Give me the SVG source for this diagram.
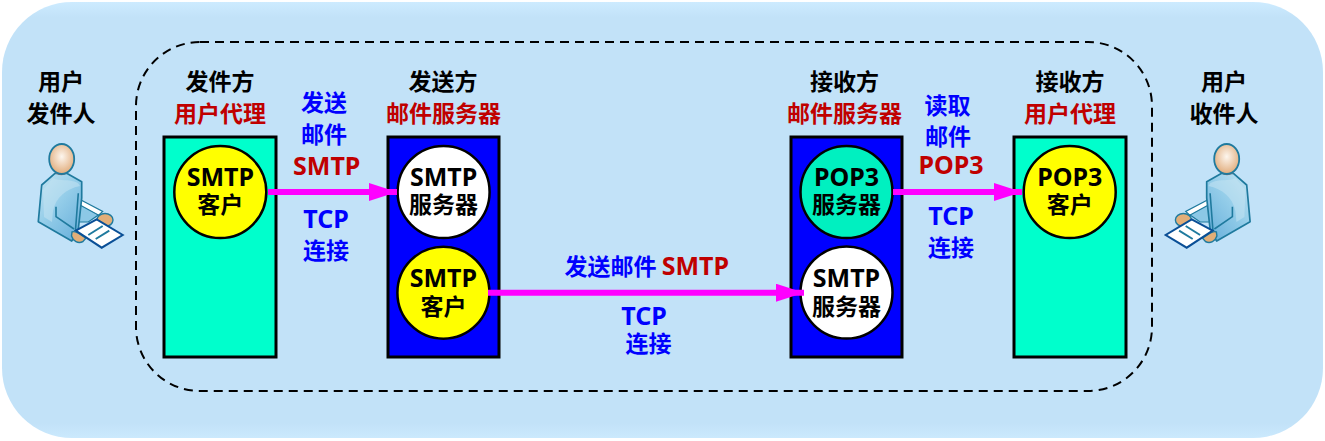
<svg xmlns="http://www.w3.org/2000/svg" xmlns:xlink="http://www.w3.org/1999/xlink" width="1325" height="441" viewBox="0 0 1325 441">
<style>
text{font-family:"Noto Sans CJK SC","Noto Sans",sans-serif;font-weight:700;font-size:23px;text-anchor:middle}
.k{fill:#000}.r{fill:#c00000}.b{fill:#0000ff}
.box{stroke:#000;stroke-width:3}
.c{stroke:#000;stroke-width:2.5}
.en{font-family:"Noto Sans","Noto Sans CJK SC",sans-serif;font-size:25px}
.arrow{stroke:#ff00ff;stroke-width:6;fill:none;marker-end:url(#ah)}
.o{stroke:#1f7a9e;stroke-width:1.600;stroke-linejoin:round;fill:none}
</style>
<defs>
<marker id="ah" markerUnits="userSpaceOnUse" markerWidth="30" markerHeight="18" refX="29" refY="9" orient="auto"><path d="M1 0L29 9L1 18Z" fill="#ff00ff"/></marker>
<linearGradient id="bg" x1="0" y1="0" x2="0" y2="1"><stop offset="0" stop-color="#cdebff"/><stop offset=".035" stop-color="#c2e2f8"/><stop offset=".965" stop-color="#c2e2f8"/><stop offset="1" stop-color="#cbe9fd"/></linearGradient>
<radialGradient id="face" cx=".5" cy=".42" r=".6"><stop offset="0" stop-color="#fdf6ee"/><stop offset="1" stop-color="#e0aa78"/></radialGradient>
<linearGradient id="cloth" x1="0" y1="0" x2=".8" y2="1"><stop offset="0" stop-color="#c4e4f2"/><stop offset=".5" stop-color="#94cde9"/><stop offset="1" stop-color="#6cb2dc"/></linearGradient>
<g id="person">
<path d="M80 199.500L102.700 211.500L98.300 215.500L80 206Z" fill="#fff" stroke="#1f7a9e" stroke-width="1.200"/>
<path d="M80 205L98.300 215L88.300 222L76.700 222Z" fill="#8cc8e6" stroke="#1f7a9e" stroke-width="1.200"/>
<ellipse cx="105" cy="220" rx="8" ry="6.500" fill="#e2ae78" stroke="#1f7a9e" stroke-width="1.400"/>
<path d="M55 173.300L66.700 173.300L81.700 181.700L81.700 198L78 232L71.700 241L38.300 221.700L41.700 185Z" fill="url(#cloth)" stroke="#1f7a9e" stroke-width="1.700" stroke-linejoin="round"/>
<path d="M53 178C60 182 68 178 78 183L80 186C66 189 56 197 53 211L52 222L44 217L43 190Z" fill="#c4e4f2" opacity=".55"/>
<path d="M56 206.700V216.700L74 229M78.300 193.300L75.500 230" class="o"/>
<path d="M55 172.500C58 176 65 176 67 172.500L67 171L56 171Z" fill="#d9705c"/>
<ellipse cx="61.700" cy="159" rx="12.500" ry="15" fill="url(#face)" stroke="#1f7a9e" stroke-width="1.800"/>
<path d="M72 232C76 230 82 236 86 238L83 241.500C78 244 73 241 71.500 236Z" fill="#e2ae78" stroke="#1f7a9e" stroke-width="1.400"/>
<path d="M75.700 230.700L96.700 219.300L122.700 235L101.700 247.700Z" fill="#fff" stroke="#0a4f96" stroke-width="2"/>
<path d="M88.300 235L102.700 226M95.700 239L109.300 230.700" stroke="#1f7a9e" stroke-width="2" fill="none"/>
</g>
</defs>
<g id="background">
<rect x="2" y="2" width="1321" height="436" rx="70" ry="70" fill="url(#bg)"/>
<rect x="136" y="42" width="1016" height="349" rx="64" ry="64" fill="none" stroke="#000" stroke-width="2" stroke-dasharray="9 6"/>
</g>
<g id="sender-person"><use xlink:href="#person" href="#person"/><text x="61" y="90" class="k">用户</text><text x="61" y="122" class="k">发件人</text></g>
<g id="receiver-person"><use xlink:href="#person" href="#person" transform="translate(1288.400 0) scale(-1 1)"/><text x="1224" y="90" class="k">用户</text><text x="1224" y="122" class="k">收件人</text></g>
<g id="sender-agent">
<text x="220" y="90" class="k">发件方</text><text x="220" y="122" class="r">用户代理</text>
<rect x="164" y="137" width="112" height="220" fill="#00ffcc" class="box"/>
<circle cx="220.300" cy="192" r="46" fill="#ffff00" class="c"/>
<text x="220.300" y="186" class="en k">SMTP</text><text x="220.300" y="213" class="k">客户</text>
</g>
<g id="sender-server">
<text x="443" y="90" class="k">发送方</text><text x="443.500" y="122" class="r">邮件服务器</text>
<rect x="388" y="137" width="111" height="220" fill="#0000ff" class="box"/>
<circle cx="443.600" cy="192" r="46" fill="#ffffff" class="c"/>
<text x="443.600" y="186" class="en k">SMTP</text><text x="443.600" y="213" class="k">服务器</text>
<circle cx="443.400" cy="292.700" r="46" fill="#ffff00" class="c"/>
<text x="443.400" y="287" class="en k">SMTP</text><text x="443.400" y="315" class="k">客户</text>
</g>
<g id="receiver-server">
<text x="844.500" y="90" class="k">接收方</text><text x="844.500" y="122" class="r">邮件服务器</text>
<rect x="791" y="137" width="111" height="220" fill="#0000ff" class="box"/>
<circle cx="846.500" cy="192" r="46" fill="#00f0c0" class="c"/>
<text x="846.500" y="186" class="en k">POP3</text><text x="846.500" y="213" class="k">服务器</text>
<circle cx="846.500" cy="292.500" r="46" fill="#ffffff" class="c"/>
<text x="846.500" y="287" class="en k">SMTP</text><text x="846.500" y="315" class="k">服务器</text>
</g>
<g id="receiver-agent">
<text x="1070" y="90" class="k">接收方</text><text x="1070" y="122" class="r">用户代理</text>
<rect x="1014" y="137" width="112" height="220" fill="#00ffcc" class="box"/>
<circle cx="1069.700" cy="192" r="46" fill="#ffff00" class="c"/>
<text x="1069.700" y="186" class="en k">POP3</text><text x="1069.700" y="213" class="k">客户</text>
</g>
<g id="connectors">
<line x1="268" y1="192" x2="397" y2="192" class="arrow"/>
<line x1="488" y1="292.700" x2="804" y2="292.700" class="arrow"/>
<line x1="893" y1="192" x2="1022" y2="192" class="arrow"/>
</g>
<g id="labels">
<text x="324" y="111" class="b">发送</text><text x="324" y="143" class="b">邮件</text><text x="326.700" y="175" class="r en">SMTP</text>
<text x="326" y="227.500" class="b en">TCP</text><text x="326" y="259" class="b">连接</text>
<text x="947.500" y="114" class="b">读取</text><text x="948" y="145" class="b">邮件</text><text x="951" y="174" class="r en">POP3</text>
<text x="951" y="225" class="b en">TCP</text><text x="951" y="256" class="b">连接</text>
<text x="646.700" y="275" class="b">发送邮件 <tspan class="r en">SMTP</tspan></text>
<text x="644" y="325" class="b en">TCP</text><text x="648.500" y="352" class="b">连接</text>
</g>
</svg>
